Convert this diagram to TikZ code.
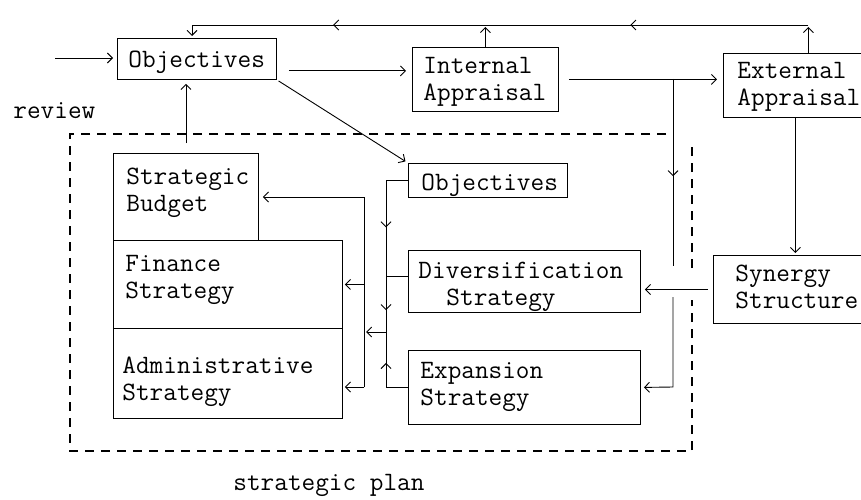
\documentclass[tikz,border=0pt]{standalone}
\usetikzlibrary{arrows.meta,decorations.markings,calc}
\begin{document}
\begin{tikzpicture}[x=1pt,y=-1pt,
  line width=0.9pt,
  >={Straight Barb[length=5pt,width=10pt]},
  box/.style={draw, rectangle, inner sep=0pt, anchor=north west},
  lbl/.style={anchor=base west, inner sep=0pt, font=\ttfamily\fontsize{26.5}{27}\selectfont, align=left},
  arr/.style={->, shorten >=3pt},
  dashbox/.style={dash pattern=on 9pt off 7pt, line width=1.1pt},
  mk/.style={postaction={decorate}, decoration={markings, mark=at position #1 with {\arrow{>}}}},
  mktwo/.style 2 args={postaction={decorate}, decoration={markings, mark=at position #1 with {\arrow{>}}, mark=at position #2 with {\arrow{>}}}},
  ]
\useasboundingbox (0,0) rectangle (861,500);

% boxes
\node[box, minimum width=159pt, minimum height=41pt] (obj) at (117,38) {};
\node[box, minimum width=146pt, minimum height=64pt] (ia) at (412,47) {};
\node[box, minimum width=170pt, minimum height=64pt] (ea) at (723,53) {};
\node[box, minimum width=145pt, minimum height=87pt] (sb) at (113,153) {};
\node[box, minimum width=229pt, minimum height=88pt] (fs) at (113,240) {};
\node[box, minimum width=229pt, minimum height=90pt] (as) at (113,328) {};
\node[box, minimum width=159pt, minimum height=34pt] (iobj) at (408,163) {};
\node[box, minimum width=232pt, minimum height=62pt] (ds) at (408,250) {};
\node[box, minimum width=232pt, minimum height=74pt] (es) at (408,350) {};
\node[box, minimum width=170pt, minimum height=68pt] (ss) at (713,255) {};

% texts (multi-line nodes are placed at the baseline of their last line)
\node[lbl] (tobj) at (128,68) {Objectives};
\node[lbl] (tia) at (423,101) {Internal\\Appraisal};
\node[lbl] (tea) at (737,106) {External\\Appraisal};
\node[lbl] (tsb) at (126,211) {Strategic\\Budget};
\node[lbl] (tfs) at (125,298) {Finance\\Strategy};
\node[lbl] (tas) at (122,400) {Administrative\\Strategy};
\node[lbl] (tiobj) at (421,190) {Objectives};
\node[lbl] (tds) at (418,305) {Diversification\\\hspace*{28pt}Strategy};
\node[lbl] (tes) at (420,405) {Expansion\\Strategy};
\node[lbl] (tss) at (735,308) {Synergy\\Structure};
\node[lbl] (trev) at (13,118) {review};
\node[lbl] (tplan) at (233,490) {strategic plan};

% dashed strategic plan frame
\draw[dashbox] (666,134) -- (70,134) -- (70,451) -- (692,451) -- (692,300);
\draw[dashbox] (692,268) -- (692,140);

% top feedback loop
\coordinate (tl) at (192,25);
\draw[->, shorten >=2pt] (ia.north) -- (ia.north |- tl);
\draw[->, shorten >=2pt] (ea.north) -- (ea.north |- tl);
\draw[->, shorten >=2pt, mktwo={0.283}{0.755}] (ea.north |- tl) -- (tl) -- (tl |- obj.north);

% input
\coordinate (in) at (55,58);
\draw[->, shorten >=4pt] (in) -- (in -| obj.west);

% objectives -> internal appraisal
\draw[->, shorten >=6pt] ([xshift=12pt, yshift=-12pt]obj.east) coordinate (p1) -- (p1 -| ia.west);

% internal -> external
\draw[->, shorten >=6pt] ([xshift=10pt]ia.east) -- (ia.east -| ea.west);

% branch down to expansion strategy
\coordinate (br) at (673,79);
\coordinate (brga) at (673,266);
\coordinate (brgb) at (673,297);
\coordinate (bre) at (673,387);
\draw[mk=0.52] (br) -- (brga);
\draw[->, shorten >=3pt] (brgb) -- (bre) -- (es.east);

% external -> synergy
\draw[->, shorten >=2pt] ([xshift=-13pt]ea.south) -- ([xshift=-13pt]ea.south |- ss.north);

% synergy -> diversification
\draw[->, shorten >=4pt] ([xshift=-5pt]ss.west) -- (ss.west -| ds.east);

% objectives -> inner objectives
\draw[->, shorten <=2pt, shorten >=3pt] (obj.south east) -- (iobj.north west);

% strategic budget -> objectives
\draw[->, shorten >=4pt] ([yshift=10pt]sb.north) -- (sb.north |- obj.south);

% inner bus
\coordinate (bJ) at (386,332);
\coordinate (btwot) at (364,197);
\coordinate (btwob) at (364,387);
\draw[mktwo={0.397}{0.874}] (iobj.west) -| (bJ);
\draw ([yshift=5pt]ds.west) -- ([yshift=5pt]ds.west -| bJ);
\draw[mk=0.6] (es.west) -| (bJ);
\draw[->, shorten >=2pt] (bJ) -- (bJ -| btwot);
\draw[->, shorten >=4pt] (btwob) -- (btwot) -- (btwot -| sb.east);
\draw[->, shorten >=2pt] (fs.east -| btwot) -- (fs.east);
\draw[->, shorten >=2pt] (btwob) -- (btwob -| as.east);
\end{tikzpicture}
\end{document}
